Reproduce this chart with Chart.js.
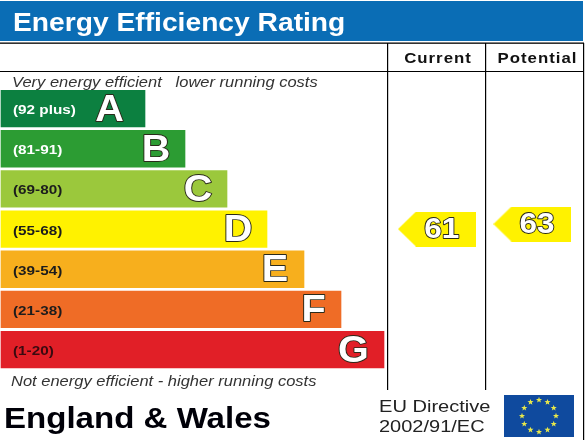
<!DOCTYPE html>
<html>
<head>
<meta charset="utf-8">
<script src="https://cdn.jsdelivr.net/npm/chart.js@4/dist/chart.umd.min.js"></script>
<style>
  html, body { margin: 0; padding: 0; background: #fff; }
  #wrap { position: relative; width: 588px; height: 440px; }
  canvas { display: block; }
</style>
</head>
<body>
<div id="wrap"><canvas id="chart" width="588" height="440"></canvas></div>
<script>
const bands = ['A', 'B', 'C', 'D', 'E', 'F', 'G'];
const ranges = ['(92 plus)', '(81-91)', '(69-80)', '(55-68)', '(39-54)', '(21-38)', '(1-20)'];
const barLengths = [145, 185, 227, 267, 304, 341, 384];
const barColors = ['#0c8040', '#2c9c33', '#9bc83c', '#fff200', '#f7af1d', '#ef6c26', '#e11f27'];
const rangeColors = ['#ffffff', '#ffffff', '#1c1c1c', '#1c1c1c', '#1c1c1c', '#1c1c1c', '#3a0a10'];
const letterInset = [35.5, 29, 29, 29, 29, 27.5, 30.5];
const columns = ['Current', 'Potential'];
const ratings = [61, 63];

const FONT = '"Liberation Sans", Arial, sans-serif';
const colX = [437, 532.4];

// sx stretches the glyphs sideways, the original lettering is wider than Liberation
function text(ctx, str, x, y, font, color, sx, align, spacing) {
  ctx.save();
  ctx.translate(x, y);
  ctx.scale(sx || 1, 1);
  ctx.font = font;
  ctx.letterSpacing = spacing || '0px';
  ctx.fillStyle = color;
  ctx.textAlign = align || 'left';
  ctx.textBaseline = 'alphabetic';
  ctx.fillText(str, 0, 0);
  ctx.restore();
}

function outlined(ctx, str, x, y, font, sx) {
  ctx.save();
  ctx.translate(x, y);
  ctx.scale(sx || 1, 1);
  ctx.font = font;
  ctx.textAlign = 'center';
  ctx.textBaseline = 'middle';
  ctx.lineJoin = 'round';
  ctx.lineWidth = 1.8;
  ctx.strokeStyle = '#2a2a1a';
  ctx.strokeText(str, 0, 0);
  ctx.fillStyle = '#ffffff';
  ctx.fillText(str, 0, 0);
  ctx.restore();
}

function makeArrow() {
  const c = document.createElement('canvas');
  c.width = 78;
  c.height = 35;
  const g = c.getContext('2d');
  g.fillStyle = '#fff200';
  g.beginPath();
  g.moveTo(0, 17.5);
  g.lineTo(18, 0);
  g.lineTo(78, 0);
  g.lineTo(78, 35);
  g.lineTo(18, 35);
  g.closePath();
  g.fill();
  return c;
}

function star(ctx, cx, cy, r) {
  ctx.beginPath();
  for (let i = 0; i < 10; i++) {
    const rad = i % 2 ? r * 0.42 : r;
    const a = -Math.PI / 2 + i * Math.PI / 5;
    ctx.lineTo(cx + rad * Math.cos(a), cy + rad * Math.sin(a));
  }
  ctx.closePath();
  ctx.fill();
}

const frame = {
  id: 'frame',
  beforeDraw(chart) {
    const ctx = chart.ctx;
    ctx.save();
    ctx.fillStyle = '#ffffff';
    ctx.fillRect(0, 0, 588, 440);
    ctx.fillStyle = '#0a6db5';
    ctx.fillRect(0, 1, 583, 40);
    ctx.fillStyle = '#000000';
    ctx.fillRect(0, 42.5, 584, 1.3);
    ctx.fillRect(0, 71, 584, 1);
    ctx.fillRect(387, 43, 1.2, 347);
    ctx.fillRect(485, 43, 1.2, 347);
    ctx.fillRect(583, 43, 1.2, 397);
    ctx.restore();
  },
  afterDatasetsDraw(chart) {
    const ctx = chart.ctx;
    const y = chart.scales.y;
    const r = chart.scales.yRating;
    ctx.save();
    text(ctx, 'Energy Efficiency Rating', 13, 30.5, 'bold 26px ' + FONT, '#ffffff', 1.085);
    text(ctx, columns[0], 438, 63, 'bold 15px ' + FONT, '#111111', 1.12, 'center', '0.9px');
    text(ctx, columns[1], 537.5, 63, 'bold 15px ' + FONT, '#111111', 1.12, 'center', '0.9px');
    text(ctx, 'Very energy efficient   lower running costs', 12, 87, 'italic 15px ' + FONT, '#333333', 1.1);
    text(ctx, 'Not energy efficient - higher running costs', 11, 386, 'italic 15px ' + FONT, '#333333', 1.1);

    bands.forEach((b, i) => {
      const py = y.getPixelForValue(i);
      text(ctx, ranges[i], 13, py + 5.5, 'bold 13px ' + FONT, rangeColors[i], 1.176);
      outlined(ctx, b, barLengths[i] - letterInset[i], py + 2, 'bold 36px ' + FONT, 1.1);
    });

    ratings.forEach((v, i) => {
      outlined(ctx, String(v), colX[i] + 4.7, r.getPixelForValue(v) + 1, 'bold 30px ' + FONT, 1.05);
    });

    text(ctx, 'England & Wales', 4, 428, 'bold 29px ' + FONT, '#000008', 1.14);
    text(ctx, 'EU Directive', 379, 412, '17px ' + FONT, '#222222', 1.18);
    text(ctx, '2002/91/EC', 379, 432, '17px ' + FONT, '#222222', 1.176);

    // EU flag
    ctx.fillStyle = '#0f4a9e';
    ctx.fillRect(504, 395, 70, 42);
    ctx.fillStyle = '#e8e84a';
    for (let i = 0; i < 12; i++) {
      const a = i * Math.PI / 6;
      star(ctx, 539 + 17 * Math.sin(a), 416 - 16 * Math.cos(a), 3.2);
    }
    ctx.restore();
  }
};

new Chart(document.getElementById('chart'), {
  data: {
    labels: bands,
    datasets: [
      {
        type: 'bar',
        indexAxis: 'y',
        data: barLengths,
        backgroundColor: barColors,
        barThickness: 36.7,
        base: 1,
        xAxisID: 'x',
        yAxisID: 'y'
      },
      {
        type: 'scatter',
        data: ratings.map((v, i) => ({ x: colX[i], y: v })),
        pointStyle: makeArrow(),
        xAxisID: 'x',
        yAxisID: 'yRating'
      }
    ]
  },
  options: {
    responsive: false,
    animation: false,
    layout: { autoPadding: false, padding: { top: 88.5, bottom: 70.3, left: 0, right: 0 } },
    plugins: { legend: { display: false }, tooltip: { enabled: false } },
    scales: {
      x: { type: 'linear', min: 0, max: 588, display: false },
      y: { type: 'category', labels: bands, display: false, grid: { display: false } },
      yRating: { type: 'linear', min: 4.68, max: 117.24, display: false }
    }
  },
  plugins: [frame]
});
</script>
</body>
</html>
